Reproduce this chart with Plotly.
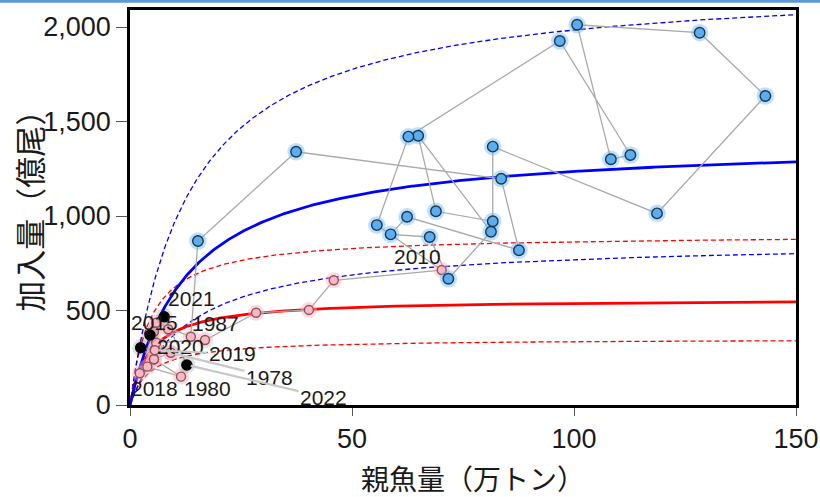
import numpy as np
import plotly.graph_objects as go

# ---------------- data ----------------
years = [1978, 1979, 1980, 1981, 1982, 1983, 1984, 1985, 1986, 1987,
         1988, 1989, 1990, 1991, 1992, 1993, 1994, 1995, 1996, 1997,
         1998, 1999, 2000, 2001, 2002, 2003, 2004, 2005, 2006, 2007,
         2008, 2009,
         2010, 2011, 2012, 2013, 2014, 2015, 2016, 2017,
         2018, 2019, 2020, 2021, 2022]
ssb = [9.2, 5.4, 11.5, 3.9, 2.2, 5.6, 5.4, 8.6, 5.9, 13.7,
       15.3, 37.4, 83.6, 87.6, 62.4, 58.7, 67.5, 71.7, 81.3, 64.9,
       68.9, 81.7, 81.7, 118.7, 143.1, 128.3, 100.7, 108.3, 112.7, 96.8,
       62.7, 55.6,
       70.2, 45.9, 40.3, 28.4, 16.9, 5.9, 9.2, 5.4,
       2.4, 5.6, 4.5, 7.7, 12.8]
rec = [277, 242, 150, 203, 168, 295, 388, 401, 435, 361,
       868, 1340, 1197, 819, 996, 903, 889, 668, 917, 1425,
       1025, 972, 1367, 1014, 1635, 1970, 2012, 1300, 1323, 1926,
       1420, 952,
       714, 660, 503, 488, 344, 330, 277, 242,
       303, 290, 370, 467, 212]
group = (["low"] * 10 + ["high"] * 22 + ["low"] * 8 +
         ["recent", "low", "recent", "recent", "recent"])

# Beverton-Holt curves (parameters)
high_rmax, high_k = 1400.0, 13.3
low_rmax, low_k = 562.0, 4.5
band_factor = 1.606

# labelled years and where their texts sit (data coords)
label_years = [2010, 2021, 2015, 1987, 2020, 2019, 1978, 2018, 1980, 2022]
label_x = [64.8, 13.8, 5.6, 19.2, 11.3, 23.0, 31.4, 5.6, 17.4, 43.6]
label_y = [788, 561, 439, 429, 307, 270, 148, 85, 85, 42]
label_leader = [False, False, False, False, False, True, True, False, False, True]

x_ticks = [0, 50, 100, 150]
y_ticks = [0, 500, 1000, 1500, 2000]

# ---------------- figure ----------------
S = np.linspace(0.0, 150.0, 601)


def bh(rmax, k, s):
    return rmax * s / (k + s)


fig = go.Figure()

curves = [
    (low_rmax * band_factor, low_k, "red", "dash", 1.3),
    (low_rmax / band_factor, low_k, "red", "dash", 1.3),
    (high_rmax * band_factor, high_k, "blue", "dash", 1.3),
    (high_rmax / band_factor, high_k, "blue", "dash", 1.3),
    (low_rmax, low_k, "red", "solid", 2.8),
    (high_rmax, high_k, "blue", "solid", 2.8),
]
for rmax, k, col, dash, w in curves:
    fig.add_trace(go.Scatter(
        x=S, y=bh(rmax, k, S), mode="lines",
        line=dict(color=col, width=w, dash=("5px,3px" if dash == "dash" else "solid")),
        hoverinfo="skip", showlegend=False))

# time path
fig.add_trace(go.Scatter(x=ssb, y=rec, mode="lines",
                         line=dict(color="#a9a9a9", width=1.3),
                         hoverinfo="skip", showlegend=False))

styles = {
    "low": dict(fill="#ffb6c1", edge="#7a5a60", halo="rgba(255,170,185,0.45)", size=9),
    "high": dict(fill="#5aaef0", edge="#1d3550", halo="rgba(110,185,245,0.45)", size=10.5),
    "recent": dict(fill="#000000", edge="#000000", halo="rgba(0,0,0,0.12)", size=10),
}
for g, st in styles.items():
    xs = [s for s, gg in zip(ssb, group) if gg == g]
    ys = [r for r, gg in zip(rec, group) if gg == g]
    fig.add_trace(go.Scatter(x=xs, y=ys, mode="markers",
                             marker=dict(size=st["size"] + 7, color=st["halo"], line=dict(width=0)),
                             hoverinfo="skip", showlegend=False))
    fig.add_trace(go.Scatter(x=xs, y=ys, mode="markers",
                             marker=dict(size=st["size"], color=st["fill"],
                                         line=dict(width=1.4, color=st["edge"])),
                             showlegend=False))

lab_font = dict(family="Liberation Sans, Arial, sans-serif", size=21, color="#1a1a1a")
for yr, lx, ly, lead in zip(label_years, label_x, label_y, label_leader):
    i = years.index(yr)
    if lead:
        fig.add_annotation(x=ssb[i], y=rec[i], ax=lx, ay=ly, axref="x", ayref="y",
                           xref="x", yref="y", text=str(yr), showarrow=True,
                           arrowhead=0, arrowwidth=2.2, arrowcolor="#c8c8c8",
                           standoff=4, font=lab_font)
    else:
        fig.add_annotation(x=lx, y=ly, xref="x", yref="y", text=str(yr),
                           showarrow=False, font=lab_font)

# axis titles
fig.add_annotation(x=0.515, y=-0.1848, xref="paper", yref="paper",
                   xanchor="center", yanchor="middle",
                   text="親魚量（万トン）", showarrow=False,
                   font=dict(family="Noto Sans CJK JP", size=28, color="#1a1a1a"))
fig.add_annotation(x=-0.153, y=0.51, xref="paper", yref="paper", textangle=-90,
                   xanchor="center", yanchor="middle",
                   text="加入量（億尾）", showarrow=False,
                   font=dict(family="Noto Sans CJK JP", size=31, color="#1a1a1a"))

# page decoration band at the very top
fig.add_shape(type="rect", xref="paper", yref="paper", x0=-0.25, x1=1.1,
              y0=1.0185, y1=1.05, line=dict(width=0), fillcolor="#5b9bd5",
              layer="above")

tickfont = dict(family="Liberation Sans Narrow, Arial Narrow, Liberation Sans, sans-serif",
                size=27, color="#1a1a1a")
fig.update_xaxes(range=[0, 150], tickvals=x_ticks, ticks="outside", ticklen=8,
                 tickcolor="#555", tickwidth=1, showline=True, mirror=True,
                 linecolor="black", linewidth=2.5, showgrid=False, zeroline=False,
                 tickfont=tickfont, ticklabelstandoff=0, automargin=False)
fig.update_yaxes(range=[0, 2090], tickvals=y_ticks, tickformat=",d", ticks="outside",
                 ticklen=11, tickcolor="#555", tickwidth=1, showline=True, mirror=True,
                 linecolor="black", linewidth=2.5, showgrid=False, zeroline=False,
                 tickfont=tickfont, ticklabelstandoff=0, automargin=False)

fig.update_layout(width=820, height=497, margin=dict(l=130, r=24, t=10, b=92),
                  paper_bgcolor="white", plot_bgcolor="white", showlegend=False)

fig.write_html("out.html", config={"displayModeBar": False},
               post_script="document.body.style.margin='0';document.body.style.padding='0';")
